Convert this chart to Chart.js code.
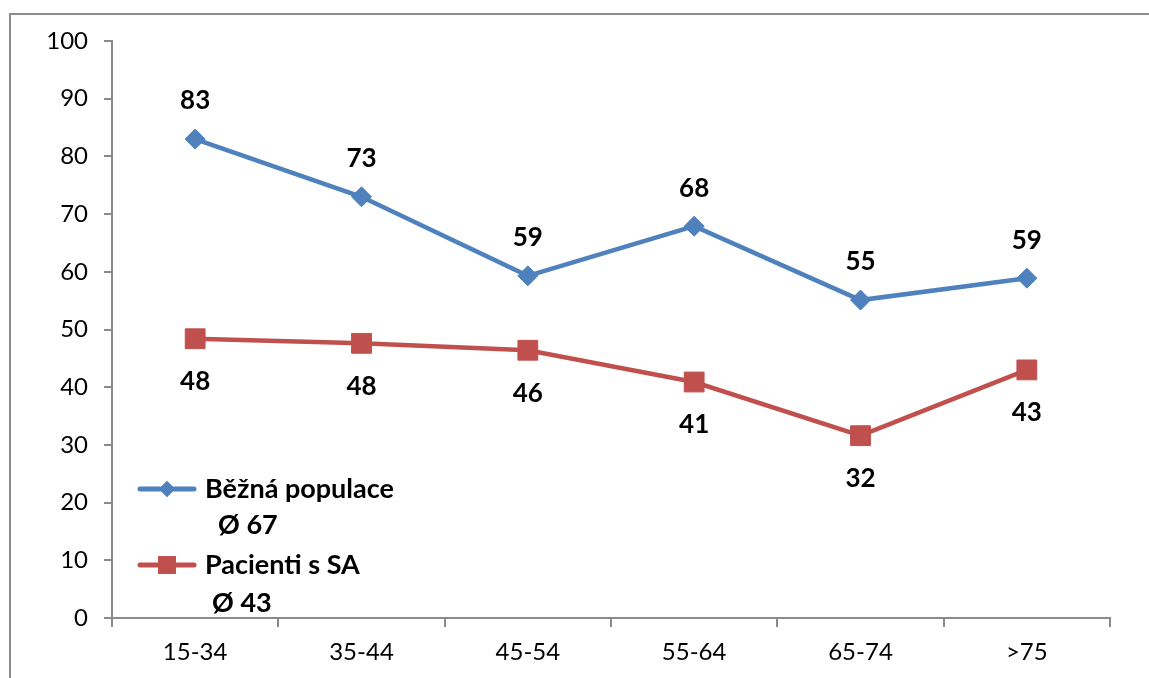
<!DOCTYPE html>
<html>
<head>
<meta charset="utf-8">
<script src="https://cdn.jsdelivr.net/npm/chart.js@4/dist/chart.umd.min.js"></script>
<style>
  html, body { margin: 0; padding: 0; background: #fff; }
  #wrap { position: relative; width: 1149px; height: 678px; overflow: hidden; }
  #frame { position: absolute; left: 9px; top: 13px; width: 1200px; height: 700px;
           border-left: 2px solid #8a8a8a; border-top: 2px solid #8a8a8a; box-sizing: border-box; }
  canvas { position: absolute; left: 0; top: 0; }
</style>
</head>
<body>
<div id="wrap">
  <div id="frame"></div>
  <canvas id="c" width="1149" height="678"></canvas>
</div>
<script>
// Age groups
const categories = ['15-34', '35-44', '45-54', '55-64', '65-74', '>75'];
// General population
const bezna = [83, 73, 59.3, 67.9, 55.1, 58.9];
// Patients with SA
const pacienti = [48.4, 47.6, 46.4, 40.9, 31.6, 43.0];
const seriesNames = ['Běžná populace', 'Pacienti s SA'];
const seriesAverages = ['Ø 67', 'Ø 43'];
const yTicks = [0, 10, 20, 30, 40, 50, 60, 70, 80, 90, 100];

const BLUE = '#4f81bd';
const RED = '#c0504d';
const AXIS = '#8a8a8a';
const FONT = 'Lato, "Open Sans", sans-serif';

// value labels: above the blue line, below the red line
const valueLabels = {
  id: 'valueLabels',
  afterDatasetsDraw(chart) {
    const ctx = chart.ctx;
    ctx.save();
    ctx.font = 'bold 26px ' + FONT;
    ctx.fillStyle = '#000';
    ctx.textAlign = 'center';
    ctx.textBaseline = 'middle';
    chart.data.datasets.forEach((ds, i) => {
      const meta = chart.getDatasetMeta(i);
      const off = i === 0 ? -38 : 43;
      meta.data.forEach((pt, j) => {
        ctx.fillText(String(Math.round(ds.data[j])), pt.x, pt.y + off);
      });
    });
    ctx.restore();
  }
};

// legend inside the plot area, with an average line under each name
const insideLegend = {
  id: 'insideLegend',
  afterDraw(chart) {
    const ctx = chart.ctx;
    const a = chart.chartArea;
    const rows = [
      { y: a.top + 448, avgY: a.top + 484, avgX: a.left + 106, style: 'rectRot', r: 8 },
      { y: a.top + 524, avgY: a.top + 562, avgX: a.left + 100, style: 'rect', r: 12.5 }
    ];
    ctx.save();
    rows.forEach((row, i) => {
      const ds = chart.data.datasets[i];
      const x0 = a.left + 28, x1 = a.left + 82, xm = (x0 + x1) / 2;
      ctx.strokeStyle = ds.borderColor;
      ctx.lineWidth = 5;
      ctx.lineCap = 'round';
      ctx.beginPath();
      ctx.moveTo(x0, row.y);
      ctx.lineTo(x1, row.y);
      ctx.stroke();
      ctx.fillStyle = ds.borderColor;
      Chart.helpers.drawPoint(ctx, { pointStyle: row.style, radius: row.r, borderWidth: 0 }, xm, row.y);
      ctx.fill();
      ctx.fillStyle = '#000';
      ctx.font = 'bold 27px ' + FONT;
      ctx.textAlign = 'left';
      ctx.textBaseline = 'middle';
      ctx.fillText(seriesNames[i], a.left + 93, row.y);
      ctx.fillText(seriesAverages[i], row.avgX, row.avgY);
    });
    ctx.restore();
  }
};

new Chart(document.getElementById('c'), {
  type: 'line',
  data: {
    labels: categories,
    datasets: [
      {
        label: seriesNames[0],
        data: bezna,
        borderColor: BLUE,
        backgroundColor: BLUE,
        borderWidth: 4.5,
        pointStyle: 'rectRot',
        pointRadius: 10,
        pointBorderWidth: 1,
        pointBackgroundColor: BLUE,
        pointBorderColor: BLUE,
        tension: 0
      },
      {
        label: seriesNames[1],
        data: pacienti,
        borderColor: RED,
        backgroundColor: RED,
        borderWidth: 4.5,
        pointStyle: 'rect',
        pointRadius: 14,
        pointBorderWidth: 1,
        pointBackgroundColor: RED,
        pointBorderColor: RED,
        tension: 0
      }
    ]
  },
  options: {
    responsive: false,
    animation: false,
    devicePixelRatio: 1,
    layout: { padding: { top: 41, right: 39, left: 0, bottom: 0 } },
    plugins: {
      legend: { display: false },
      tooltip: { enabled: false }
    },
    scales: {
      x: {
        offset: true,
        afterFit(s) { s.height = 60; },
        grid: {
          offset: true,
          drawOnChartArea: false,
          drawTicks: true,
          tickLength: 9,
          color: AXIS,
          lineWidth: 2
        },
        border: { color: AXIS, width: 2 },
        ticks: {
          color: '#000',
          font: { family: FONT, size: 24 },
          padding: 11,
          maxRotation: 0
        }
      },
      y: {
        min: 0,
        max: 100,
        afterFit(s) { s.width = 112; },
        afterBuildTicks(s) { s.ticks = yTicks.map(v => ({ value: v })); },
        grid: {
          drawOnChartArea: false,
          drawTicks: true,
          tickLength: 8,
          color: AXIS,
          lineWidth: 2
        },
        border: { color: AXIS, width: 2 },
        ticks: {
          color: '#000',
          font: { family: FONT, size: 24 },
          padding: 16
        }
      }
    }
  },
  plugins: [valueLabels, insideLegend]
});
</script>
</body>
</html>
